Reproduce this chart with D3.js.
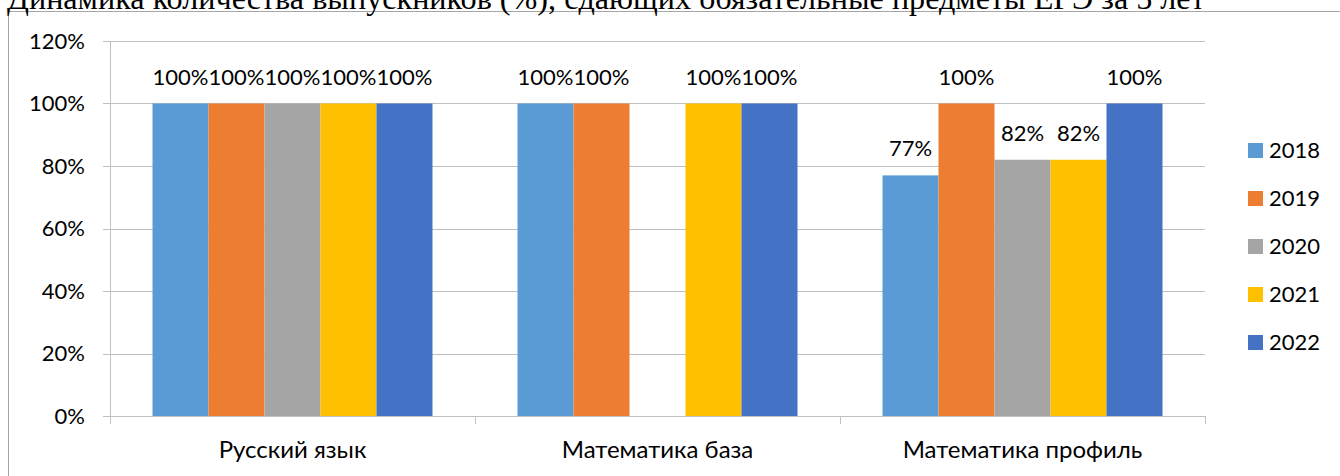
<!DOCTYPE html>
<html>
<head>
<meta charset="utf-8">
<script src="https://cdn.jsdelivr.net/npm/d3@7"></script>
<style>
  html, body { margin: 0; padding: 0; background: #fff; }
  svg { display: block; }
</style>
</head>
<body>
<svg id="chart" width="1340" height="476"></svg>
<script>
const titleText = "Динамика количества выпускников (%), сдающих обязательные предметы ЕГЭ за 5 лет";
const categories = ["Русский язык", "Математика база", "Математика профиль"];
const years = ["2018", "2019", "2020", "2021", "2022"];
const s2018 = [100, 100, 77];
const s2019 = [100, 100, 100];
const s2020 = [100, null, 82];
const s2021 = [100, 100, 82];
const s2022 = [100, 100, 100];
const yTicks = [0, 20, 40, 60, 80, 100, 120];
const colors = ["#5B9BD5", "#ED7D31", "#A5A5A5", "#FFC000", "#4472C4"];

const seriesValues = [s2018, s2019, s2020, s2021, s2022];

const svg = d3.select("#chart");
const font = "Lato, 'Open Sans', sans-serif";
const fs = 22;

// frame
svg.append("rect").attr("x", 8.5).attr("y", 11.5).attr("width", 1400).attr("height", 500)
  .attr("fill", "none").attr("stroke", "#a6a6a6").attr("stroke-width", 1);

// title (partially cut at top, as in the reference)
const title = svg.append("text").attr("x", 7).attr("y", 9)
  .attr("font-family", "'Liberation Serif', 'Times New Roman', serif")
  .attr("font-size", 100).attr("fill", "#000").text(titleText);
const tw = title.node().getComputedTextLength();
title.attr("font-size", 100 * 1198 / tw);

const plot = { left: 110, right: 1205, top: 41, bottom: 416 };
const x0 = d3.scaleBand().domain(categories).range([plot.left, plot.right]).paddingInner(0).paddingOuter(0);
const x1 = d3.scaleBand().domain(years).range([0, x0.bandwidth()]).paddingInner(0).paddingOuter(0.759);
const y = d3.scaleLinear().domain([0, 120]).range([plot.bottom, plot.top]);

// gridlines
svg.append("g").selectAll("line").data(yTicks).join("line")
  .attr("x1", plot.left - 7).attr("x2", plot.right)
  .attr("y1", d => Math.round(y(d)) + 0.5).attr("y2", d => Math.round(y(d)) + 0.5)
  .attr("stroke", "#c0c0c0").attr("stroke-width", 1);

// y axis line
svg.append("line").attr("x1", plot.left + 0.5).attr("x2", plot.left + 0.5)
  .attr("y1", plot.top).attr("y2", plot.bottom + 8).attr("stroke", "#c0c0c0");

// y labels
svg.append("g").selectAll("text").data(yTicks).join("text")
  .attr("x", 85).attr("y", d => y(d) + 7.5)
  .attr("text-anchor", "end").attr("font-family", font).attr("font-size", fs)
  .attr("fill", "#000").text(d => d + "%");

// x axis ticks at category boundaries
const bounds = categories.map(c => x0(c)).concat([plot.right]);
svg.append("g").selectAll("line").data(bounds).join("line")
  .attr("x1", d => Math.round(d) + 0.5).attr("x2", d => Math.round(d) + 0.5)
  .attr("y1", plot.bottom).attr("y2", plot.bottom + 8)
  .attr("stroke", "#c0c0c0");

// bars
const data = [];
categories.forEach((c, ci) => {
  years.forEach((yr, si) => {
    const v = seriesValues[si][ci];
    if (v !== null) data.push({ c, yr, si, v });
  });
});

svg.append("g").selectAll("rect").data(data).join("rect")
  .attr("x", d => x0(d.c) + x1(d.yr))
  .attr("width", x1.bandwidth())
  .attr("y", d => y(d.v))
  .attr("height", d => y(0) - y(d.v))
  .attr("fill", d => colors[d.si]);

// value labels
svg.append("g").selectAll("text").data(data).join("text")
  .attr("x", d => x0(d.c) + x1(d.yr) + x1.bandwidth() / 2)
  .attr("y", d => y(d.v) - 19)
  .attr("text-anchor", "middle").attr("font-family", font).attr("font-size", fs)
  .attr("fill", "#000").text(d => d.v + "%");

// category labels
svg.append("g").selectAll("text").data(categories).join("text")
  .attr("x", d => x0(d) + x0.bandwidth() / 2).attr("y", 458)
  .attr("text-anchor", "middle").attr("font-family", font).attr("font-size", 24)
  .attr("fill", "#000").text(d => d);

// legend
const lg = svg.append("g").selectAll("g").data(years).join("g")
  .attr("transform", (d, i) => `translate(1248, ${143 + i * 48})`);
lg.append("rect").attr("width", 15).attr("height", 15).attr("fill", (d, i) => colors[i]);
lg.append("text").attr("x", 21).attr("y", 15).attr("font-family", font).attr("font-size", fs)
  .attr("fill", "#000").text(d => d);
</script>
</body>
</html>
